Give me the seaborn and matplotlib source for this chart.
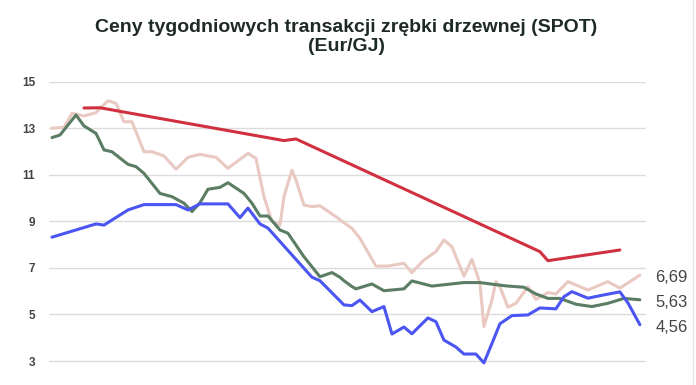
import matplotlib
matplotlib.use("Agg")
import matplotlib.pyplot as plt
import seaborn as sns
import pandas as pd
from matplotlib.lines import Line2D

# ---- data (week index, EUR/GJ) ----
blue_weeks = [0, 11, 13, 19, 23, 31, 34, 37, 44, 47, 49, 52, 54, 65, 67, 73, 75, 77, 80, 83,
              85, 88, 90, 94, 96, 98, 101, 103, 106, 108, 110, 112, 115, 119, 122, 126, 128,
              130, 134, 138, 142, 144, 147]
blue_values = [8.32, 8.89, 8.84, 9.49, 9.72, 9.72, 9.49, 9.75, 9.75, 9.16, 9.57, 8.89, 8.71,
               6.60, 6.45, 5.41, 5.38, 5.62, 5.12, 5.34, 4.16, 4.46, 4.17, 4.85, 4.69, 3.90,
               3.60, 3.30, 3.30, 2.92, 3.75, 4.60, 4.95, 4.98, 5.28, 5.24, 5.76, 5.98, 5.70,
               5.84, 5.97, 5.50, 4.56]

green_weeks = [0, 2, 6, 8, 11, 13, 15, 19, 21, 23, 27, 30, 33, 35, 37, 39, 42, 44, 48, 50,
               52, 54, 57, 59, 63, 65, 67, 70, 72, 73, 75, 76, 80, 83, 88, 90, 95, 103, 107,
               111, 114, 118, 121, 124, 127, 131, 135, 139, 143, 147]
green_values = [12.60, 12.71, 13.57, 13.10, 12.78, 12.07, 11.99, 11.45, 11.35, 11.06, 10.20,
                10.06, 9.78, 9.42, 9.80, 10.38, 10.46, 10.66, 10.20, 9.78, 9.23, 9.23, 8.63,
                8.49, 7.48, 7.05, 6.62, 6.80, 6.60, 6.45, 6.20, 6.10, 6.31, 6.02, 6.10, 6.44,
                6.22, 6.37, 6.37, 6.28, 6.22, 6.17, 5.88, 5.69, 5.69, 5.44, 5.34, 5.48, 5.69,
                5.63]

pink_weeks = [0, 3, 5, 8, 11, 14, 16, 18, 20, 23, 25, 28, 31, 34, 37, 41, 44, 49, 51, 53,
              55, 57, 58, 60, 61, 63, 65, 67, 71, 73, 75, 77, 81, 84, 88, 90, 93, 96, 98, 100,
              103, 105, 107, 108, 110, 111, 112, 114, 116, 119, 121, 124, 126, 129, 134, 139,
              142, 147]
pink_values = [13.00, 13.04, 13.64, 13.53, 13.67, 14.18, 14.07, 13.28, 13.28, 11.99, 11.99,
               11.81, 11.24, 11.75, 11.88, 11.75, 11.28, 11.92, 11.71, 10.06, 8.99, 8.84,
               10.06, 11.20, 10.78, 9.70, 9.63, 9.67, 9.20, 8.94, 8.70, 8.27, 7.08, 7.08, 7.20,
               6.80, 7.34, 7.70, 8.20, 7.91, 6.65, 7.37, 6.34, 4.48, 5.62, 6.41, 6.19, 5.31,
               5.48, 6.19, 5.65, 5.94, 5.88, 6.41, 6.05, 6.41, 6.13, 6.69]

red_weeks = [8, 12, 58, 61, 122, 124, 142]
red_values = [13.87, 13.88, 12.47, 12.54, 7.70, 7.31, 7.77]

end_labels = ["6,69", "5,63", "4,56"]
y_ticks = [3, 5, 7, 9, 11, 13, 15]
title = "Ceny tygodniowych transakcji zrębki drzewnej (SPOT)\n(Eur/GJ)"

# ---- long-form table ----
frames = []
for name, w, v in [("pink", pink_weeks, pink_values), ("green", green_weeks, green_values),
                   ("blue", blue_weeks, blue_values), ("red", red_weeks, red_values)]:
    frames.append(pd.DataFrame({"week": w, "value": v, "series": name}))
df = pd.concat(frames, ignore_index=True)

palette = {"pink": "#e9c9c1", "green": "#5b7d64", "blue": "#4b55f2", "red": "#d0303f"}

sns.set_theme(style="white")
plt.rcParams["font.family"] = ["Liberation Sans", "DejaVu Sans"]

fig = plt.figure(figsize=(6.96, 3.85), dpi=100)
ax = fig.add_axes([0.0704, 0.0502, 0.8576, 0.7376])

sns.lineplot(data=df, x="week", y="value", hue="series", palette=palette,
             hue_order=["pink", "green", "blue", "red"], estimator=None, sort=True,
             linewidth=2.2, legend=False, ax=ax)
for ln in ax.get_lines():
    ln.set_solid_joinstyle("round")
    ln.set_solid_capstyle("round")

ax.set_xlim(-0.75, 148.5)
ax.set_ylim(2.8, 15)
ax.set_yticks(y_ticks)
ax.set_yticklabels([str(t) for t in y_ticks])
ax.set_xticks([])
ax.set_xlabel("")
ax.set_ylabel("")
ax.yaxis.grid(True, color="#dcdcdc", linewidth=1)
ax.set_axisbelow(True)
for s in ax.spines.values():
    s.set_visible(False)
ax.tick_params(axis="y", length=0, pad=10, labelsize=8.5, labelcolor="#444444")
for lab in ax.get_yticklabels():
    lab.set_fontweight("bold")

# end labels
last = [(pink_weeks[-1], pink_values[-1]), (green_weeks[-1], green_values[-1]),
        (blue_weeks[-1], blue_values[-1])]
for txt, (xw, yv) in zip(end_labels, last):
    ax.annotate(txt, xy=(xw, yv), xytext=(11, -2), textcoords="offset points",
                ha="left", va="center", fontsize=12, color="#444444", annotation_clip=False)

fig.text(0.498, 0.905, title, ha="center", va="center", fontsize=14, fontweight="bold",
         color="#1e2a28", linespacing=1.15)

fig.add_artist(Line2D([693 / 696, 693 / 696], [0, 1], transform=fig.transFigure,
                      color="#e4e4e4", linewidth=1))

fig.savefig("out.png", dpi=100)
